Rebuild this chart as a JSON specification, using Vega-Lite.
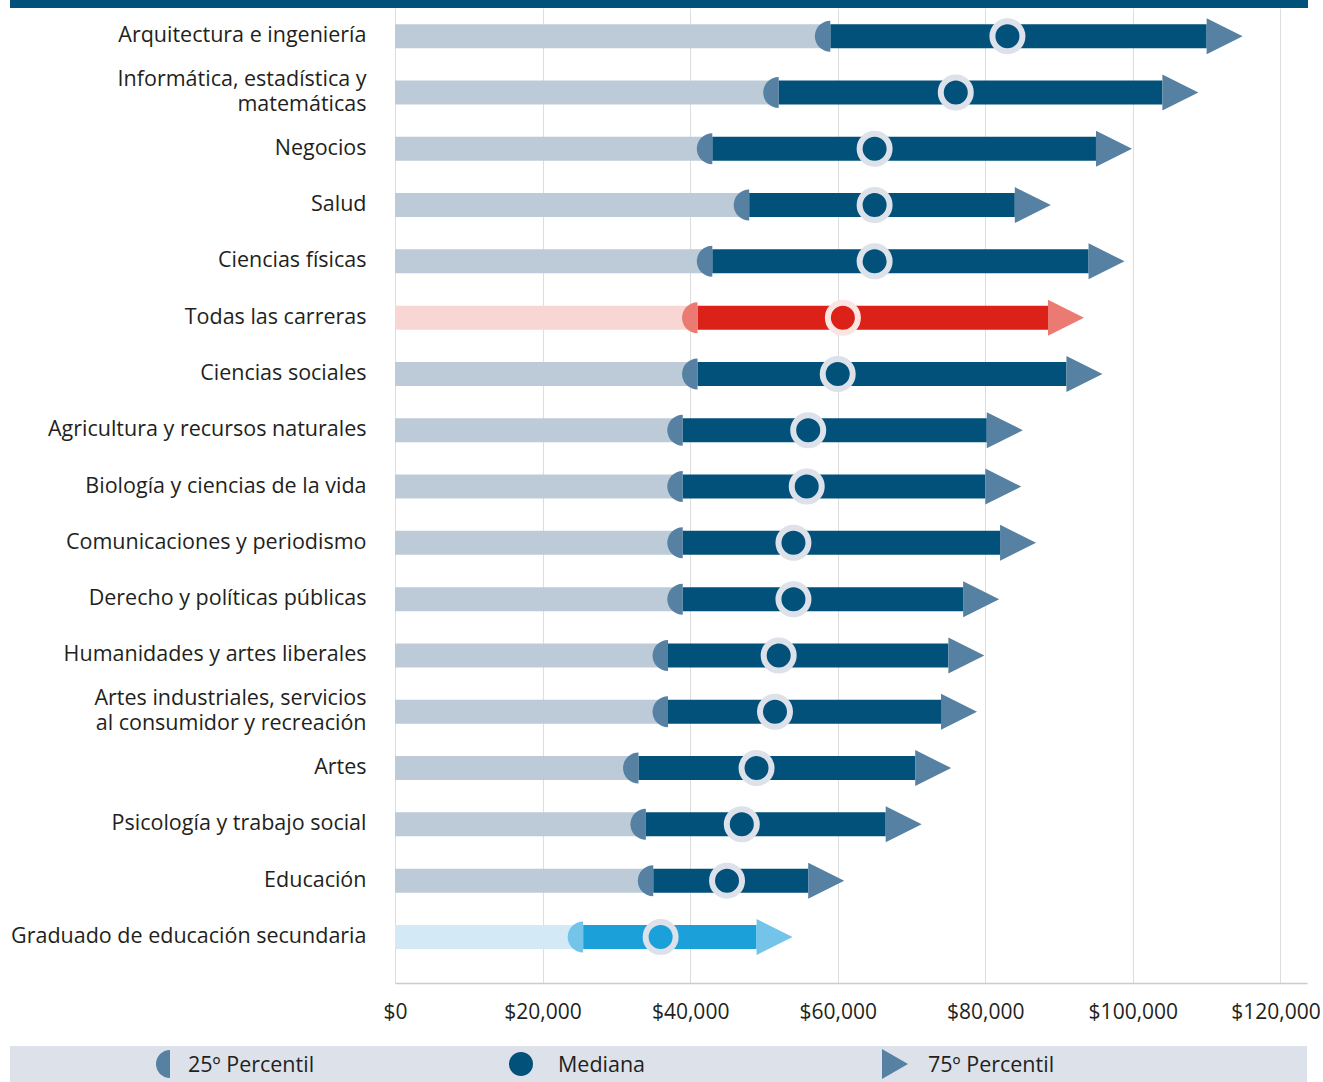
{
  "$schema": "https://vega.github.io/schema/vega-lite/v6.json",
  "padding": {"left": 10, "top": 0, "right": 0, "bottom": 0},
  "background": "white",
  "config": {"view": {"stroke": null}, "font": "Open Sans"},
  "spacing": 0,
  "vconcat": [
    {
      "width": 1298,
      "height": 8,
      "view": {"stroke": null, "fill": "#02517a"},
      "data": {"values": [{"band": "header"}]},
      "mark": {"type": "rect", "color": "#02517a"},
      "encoding": {}
    },
    {
      "spacing": 24,
      "vconcat": [
        {
          "spacing": 16,
          "resolve": {"scale": {"y": "independent"}, "axis": {"y": "independent"}},
          "data": {
            "values": [
              {"field": "Arquitectura e ingeniería", "grp": "base", "p25": 59000, "median": 83000, "p75": 110000},
              {"field": "Informática, estadística y|matemáticas", "grp": "base", "p25": 52000, "median": 76000, "p75": 104000},
              {"field": "Negocios", "grp": "base", "p25": 43000, "median": 65000, "p75": 95000},
              {"field": "Salud", "grp": "base", "p25": 48000, "median": 65000, "p75": 84000},
              {"field": "Ciencias físicas", "grp": "base", "p25": 43000, "median": 65000, "p75": 94000},
              {"field": "Todas las carreras", "grp": "total", "p25": 41000, "median": 60700, "p75": 88500},
              {"field": "Ciencias sociales", "grp": "base", "p25": 41000, "median": 60000, "p75": 91000},
              {"field": "Agricultura y recursos naturales", "grp": "base", "p25": 39000, "median": 56000, "p75": 80200},
              {"field": "Biología y ciencias de la vida", "grp": "base", "p25": 39000, "median": 55800, "p75": 80000},
              {"field": "Comunicaciones y periodismo", "grp": "base", "p25": 39000, "median": 54000, "p75": 82000},
              {"field": "Derecho y políticas públicas", "grp": "base", "p25": 39000, "median": 54000, "p75": 77000},
              {"field": "Humanidades y artes liberales", "grp": "base", "p25": 37000, "median": 52000, "p75": 75000},
              {"field": "Artes industriales, servicios|al consumidor y recreación", "grp": "base", "p25": 37000, "median": 51500, "p75": 74000},
              {"field": "Artes", "grp": "base", "p25": 33000, "median": 49000, "p75": 70500},
              {"field": "Psicología y trabajo social", "grp": "base", "p25": 34000, "median": 47000, "p75": 66500},
              {"field": "Educación", "grp": "base", "p25": 35000, "median": 45000, "p75": 56000},
              {"field": "Graduado de educación secundaria", "grp": "hs", "p25": 25500, "median": 36000, "p75": 49000}
            ]
          },
          "hconcat": [
            {
              "width": 1,
              "height": 975,
              "mark": {"type": "text", "text": ""},
              "encoding": {
                "y": {
                  "field": "field",
                  "type": "nominal",
                  "sort": null,
                  "scale": {"type": "band", "paddingInner": 0, "paddingOuter": 0.159, "align": 0},
                  "axis": {
                    "orient": "right",
                    "title": null,
                    "domain": false,
                    "ticks": false,
                    "grid": false,
                    "labelAlign": "right",
                    "labelPadding": 355,
                    "labelFontSize": 21.5,
                    "labelColor": "#231f20",
                    "labelLimit": 600,
                    "labelLineHeight": 25,
                    "labelOffset": {"condition": {"test": "indexof(datum.value, '|') >= 0", "value": -12.5}, "value": 0},
                    "labelExpr": "split(datum.label, '|')"
                  }
                }
              }
            },
            {
              "width": 912,
              "height": 975,
              "encoding": {
                "y": {
                  "field": "field",
                  "type": "nominal",
                  "sort": null,
                  "scale": {"type": "band", "paddingInner": 0, "paddingOuter": 0.159, "align": 0},
                  "axis": null
                }
              },
              "layer": [
                {
                  "mark": {"type": "bar", "size": 24, "opacity": 1},
                  "encoding": {
                    "x": {
                      "field": "p25",
                      "type": "quantitative",
                      "stack": null,
                      "scale": {"domain": [0, 123600], "nice": false, "zero": true},
                      "axis": {
                        "title": null,
                        "values": [0, 20000, 40000, 60000, 80000, 100000, 120000],
                        "format": "$,d",
                        "grid": true,
                        "gridColor": "#dddddd",
                        "gridWidth": 1,
                        "domainColor": "#cccccc",
                        "domainWidth": 1.5,
                        "ticks": false,
                        "labelPadding": 18,
                        "labelFontSize": 21,
                        "labelColor": "#231f20",
                        "labelFlush": false,
                        "labelOffset": {"condition": {"test": "datum.value >= 120000", "value": -5}, "value": 0}
                      }
                    },
                    "color": {
                      "field": "grp",
                      "type": "nominal",
                      "scale": {"domain": ["base", "total", "hs"], "range": ["#bdcbd8", "#f8d6d4", "#d3eaf6"]},
                      "legend": null
                    }
                  }
                },
                {
                  "mark": {"type": "bar", "size": 24, "opacity": 1},
                  "encoding": {
                    "x": {"field": "p25", "type": "quantitative", "axis": {"title": null}},
                    "x2": {"field": "p75"},
                    "color": {
                      "field": "grp",
                      "type": "nominal",
                      "scale": {"domain": ["base", "total", "hs"], "range": ["#02517a", "#dc2118", "#1ba0d9"]},
                      "legend": null
                    }
                  }
                },
                {
                  "mark": {"type": "point", "shape": "M0,-1 A1,1 0 0,0 0,1 Z", "size": 961, "filled": true, "opacity": 1, "strokeWidth": 0},
                  "encoding": {
                    "x": {"field": "p25", "type": "quantitative", "axis": {"title": null}},
                    "color": {
                      "field": "grp",
                      "type": "nominal",
                      "scale": {"domain": ["base", "total", "hs"], "range": ["#5681a2", "#eb7a72", "#74c4ea"]},
                      "legend": null
                    }
                  }
                },
                {
                  "mark": {"type": "point", "shape": "M0,-1 L2,0 L0,1 Z", "size": 1296, "filled": true, "opacity": 1, "strokeWidth": 0},
                  "encoding": {
                    "x": {"field": "p75", "type": "quantitative", "axis": {"title": null}},
                    "color": {
                      "field": "grp",
                      "type": "nominal",
                      "scale": {"domain": ["base", "total", "hs"], "range": ["#5681a2", "#eb7a72", "#74c4ea"]},
                      "legend": null
                    }
                  }
                },
                {
                  "mark": {"type": "point", "shape": "circle", "size": 900, "filled": true, "opacity": 1, "strokeWidth": 6, "strokeOpacity": 1},
                  "encoding": {
                    "x": {"field": "median", "type": "quantitative", "axis": {"title": null}},
                    "color": {
                      "field": "grp",
                      "type": "nominal",
                      "scale": {"domain": ["base", "total", "hs"], "range": ["#02517a", "#dc2118", "#1ba0d9"]},
                      "legend": null
                    },
                    "stroke": {
                      "field": "grp",
                      "type": "nominal",
                      "scale": {"domain": ["base", "total", "hs"], "range": ["#dce1ea", "#fbe5e3", "#dce1ea"]},
                      "legend": null
                    }
                  }
                }
              ],
              "resolve": {"scale": {"color": "independent", "stroke": "independent"}}
            }
          ]
        },
        {
          "width": 1297,
          "height": 36,
          "view": {"stroke": null, "fill": "#dde2ea"},
          "data": {
            "values": [
              {"item": "25º Percentil", "k": "p25"},
              {"item": "Mediana", "k": "med"},
              {"item": "75º Percentil", "k": "p75"}
            ]
          },
          "encoding": {
            "x": {
              "field": "item",
              "type": "nominal",
              "sort": null,
              "scale": {"type": "point", "padding": 0.7527, "align": 0.2657},
              "axis": null
            }
          },
          "layer": [
            {
              "transform": [{"filter": "datum.k == 'p25'"}],
              "mark": {"type": "point", "shape": "M0.857,-1 A1,1 0 0,0 0.857,1 Z", "size": 784, "filled": true, "opacity": 1, "color": "#5681a2", "strokeWidth": 0}
            },
            {
              "transform": [{"filter": "datum.k == 'med'"}],
              "mark": {"type": "point", "shape": "M-1.583,0 A1,1 0 1,0 0.417,0 A1,1 0 1,0 -1.583,0 Z", "size": 576, "filled": true, "opacity": 1, "color": "#02517a", "strokeWidth": 0}
            },
            {
              "transform": [{"filter": "datum.k == 'p75'"}],
              "mark": {"type": "point", "shape": "M-1.067,-1 L0.667,0 L-1.067,1 Z", "size": 900, "filled": true, "opacity": 1, "color": "#5681a2", "strokeWidth": 0}
            },
            {
              "mark": {"type": "text", "align": "left", "baseline": "middle", "dx": 30, "dy": 2, "fontSize": 21.5, "color": "#231f20"},
              "encoding": {"text": {"field": "item"}}
            }
          ]
        }
      ]
    }
  ]
}
